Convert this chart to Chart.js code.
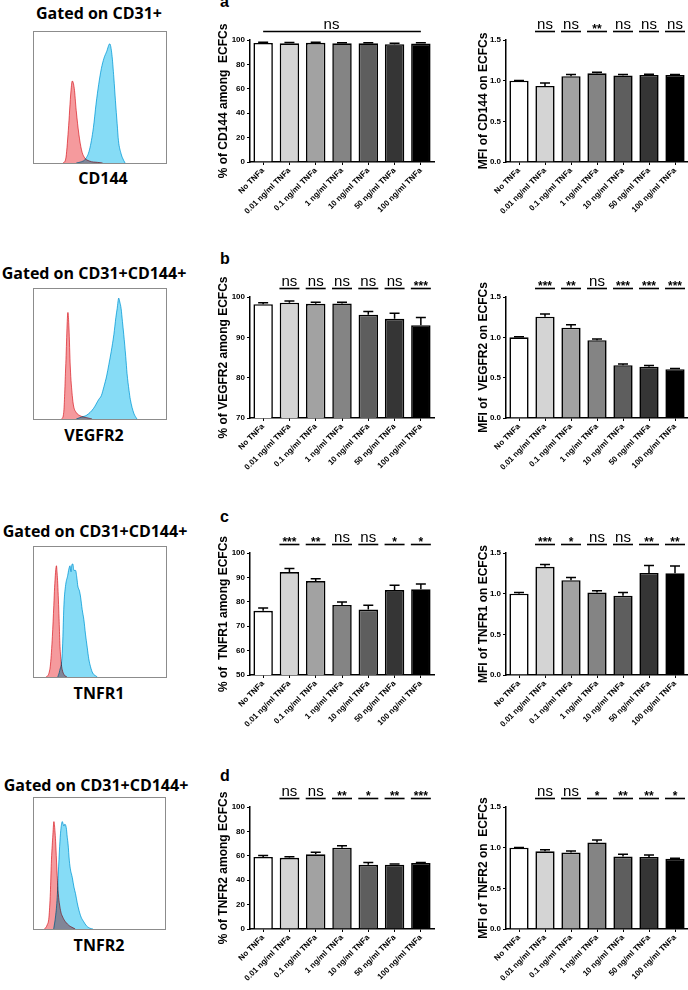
<!DOCTYPE html>
<html>
<head>
<meta charset="utf-8">
<script src="https://cdn.jsdelivr.net/npm/chart.js@4.4.0/dist/chart.umd.min.js"></script>
<style>
body{margin:0;background:#fff;width:688px;height:990px;position:relative;overflow:hidden}
.gate{position:absolute;width:200px;text-align:center;white-space:nowrap;font:bold 16px "Open Sans",sans-serif;line-height:20px}
.box{position:absolute;border:1px solid #8c8c8c;box-sizing:border-box}
.letter{position:absolute;font:bold 16px "Liberation Sans",Arial,sans-serif;line-height:16px}
canvas{position:absolute}
</style>
</head>
<body>
<div class="gate" style="left:-1px;top:3px">Gated on CD31+</div>
<div class="gate" style="left:3px;top:168px">CD144</div>
<div class="gate" style="left:-6px;top:263px">Gated on CD31+CD144+</div>
<div class="gate" style="left:-6px;top:425px">VEGFR2</div>
<div class="gate" style="left:-5px;top:521px">Gated on CD31+CD144+</div>
<div class="gate" style="left:-1px;top:683px">TNFR1</div>
<div class="gate" style="left:-4px;top:775px">Gated on CD31+CD144+</div>
<div class="gate" style="left:-1px;top:935px">TNFR2</div>

<div class="box" style="left:33px;top:31px;width:134px;height:133px"><canvas id="h1" width="132" height="131" style="left:0;top:0"></canvas></div>
<div class="box" style="left:33px;top:288px;width:134px;height:132px"><canvas id="h2" width="132" height="130" style="left:0;top:0"></canvas></div>
<div class="box" style="left:33px;top:546px;width:134px;height:132px"><canvas id="h3" width="132" height="130" style="left:0;top:0"></canvas></div>
<div class="box" style="left:33px;top:797px;width:133px;height:133px"><canvas id="h4" width="131" height="131" style="left:0;top:0"></canvas></div>

<div class="letter" style="left:220px;top:-6px">a</div>
<div class="letter" style="left:220px;top:251px">b</div>
<div class="letter" style="left:220px;top:509px">c</div>
<div class="letter" style="left:220px;top:768px">d</div>

<script>
// categories
const doses = ['No TNFa', '0.01 ng/ml TNFa', '0.1 ng/ml TNFa', '1 ng/ml TNFa', '10 ng/ml TNFa', '50 ng/ml TNFa', '100 ng/ml TNFa'];
const barColors = ['#ffffff', '#d4d4d4', '#a2a2a2', '#848484', '#5e5e5e', '#353535', '#000000'];

// a: CD144
const cd144Pct = [97.6, 97.3, 97.7, 97.3, 97.3, 96.6, 97.1];
const cd144PctErr = [0.5, 0.6, 0.4, 0.5, 0.5, 0.8, 0.6];
const cd144Mfi = [1.0, 0.935, 1.055, 1.09, 1.065, 1.07, 1.07];
const cd144MfiErr = [0.003, 0.035, 0.02, 0.012, 0.01, 0.01, 0.006];
const cd144MfiSig = ['ns', 'ns', '**', 'ns', 'ns', 'ns'];

// b: VEGFR2
const vegfr2Pct = [98.2, 98.6, 98.3, 98.4, 95.6, 94.6, 93.0];
const vegfr2PctErr = [0.4, 0.4, 0.4, 0.3, 0.8, 1.4, 1.9];
const vegfr2PctSig = ['ns', 'ns', 'ns', 'ns', 'ns', '***'];
const vegfr2Mfi = [1.0, 1.255, 1.12, 0.965, 0.655, 0.635, 0.605];
const vegfr2MfiErr = [0.008, 0.035, 0.035, 0.015, 0.015, 0.015, 0.01];
const vegfr2MfiSig = ['***', '**', 'ns', '***', '***', '***'];

// c: TNFR1
const tnfr1Pct = [76.3, 92.2, 88.5, 78.7, 76.8, 84.8, 85.1];
const tnfr1PctErr = [1.2, 1.4, 0.9, 1.2, 1.8, 2.0, 2.2];
const tnfr1PctSig = ['***', '**', 'ns', 'ns', '*', '*'];
const tnfr1Mfi = [1.0, 1.33, 1.165, 1.015, 0.975, 1.255, 1.25];
const tnfr1MfiErr = [0.015, 0.03, 0.035, 0.02, 0.04, 0.09, 0.09];
const tnfr1MfiSig = ['***', '*', 'ns', 'ns', '**', '**'];

// d: TNFR2
const tnfr2Pct = [59.0, 58.3, 61.2, 66.6, 52.6, 52.7, 54.1];
const tnfr2PctErr = [1.2, 1.0, 1.8, 1.7, 2.0, 0.5, 0.5];
const tnfr2PctSig = ['ns', 'ns', '**', '*', '**', '***'];
const tnfr2Mfi = [1.0, 0.955, 0.94, 1.065, 0.89, 0.885, 0.865];
const tnfr2MfiErr = [0.003, 0.018, 0.02, 0.03, 0.03, 0.025, 0.005];
const tnfr2MfiSig = ['ns', 'ns', '*', '**', '**', '*'];

// flow histograms: [intensity (0-100 across box), count (% of box height)]
const cd144Iso = [[22,0],[24,3],[26,25],[28,55],[29,62.6],[30.5,57],[32,40],[34,22],[36,10],[38,4.5],[42,1.5],[48,0.5],[52,0]];
const cd144Stain = [[32,0],[36,1],[39,3],[42,10],[45,27],[47,45],[49,60],[51,72],[53,80],[55,85],[57.4,91],[59,83],[60.5,65],[61.7,47.5],[63,30],[64,17],[66,7],[67,4],[69,0]];
const vegfr2Iso = [[21,0],[22.5,5],[24,40],[25.7,82],[26.5,70],[27.5,40],[29,18],[30,10],[32,5],[35,2.5],[40,1],[44,0]];
const vegfr2Stain = [[32,0],[36,1.5],[40,3],[45,8],[49,15],[51,18],[53,25],[55,33],[56.7,42],[58.5,52],[60.5,65],[62,78],[63,85],[64.2,93],[65,90],[66,85],[67,75],[68,65],[69.5,48],[70.5,35],[72,22],[73,15],[75.6,4.5],[78,0]];
const tnfr1Iso = [[9,0],[11,2],[12.5,10],[13.9,31],[15,55],[15.6,69],[17,85.6],[17.5,80],[18,71.6],[19,45],[19.6,26],[20.5,12],[21.4,5.6],[23,1.5],[25,0]];
const tnfr1Stain = [[18,0],[19.5,5],[21.4,18],[22.7,56],[24,71],[25.5,78],[26.4,83],[27.3,85.6],[28,81],[28.6,86],[29.4,87],[30.2,82],[31.5,82],[32.5,76],[33.2,70],[34.5,66],[35.3,61.5],[36.5,52],[37.8,44],[39,33],[40.3,23],[41.5,14],[42.8,8],[44.5,3],[46.6,1],[48,0]];
const tnfr2Iso = [[8,0],[10,3],[11.4,9],[12.5,28],[13.2,50],[14.3,70],[15.2,82],[16,75],[16.5,67],[17.5,45],[18.3,30],[20.3,14],[22,9],[24,5.5],[27,2.5],[29,1.3],[31.5,0]];
const tnfr2Stain = [[15,0],[16.5,10],[17.7,24],[18.8,48],[19.8,67],[20.6,77],[21.6,82],[22.3,80],[22.8,78.6],[23.5,80],[24.6,77.5],[25.4,70],[26,65],[27,52],[27.9,45],[28.6,42],[29.2,39.5],[30.5,32],[31.7,27],[33,20],[34.3,14.4],[36,9],[38,5.5],[40,2.5],[43,0.5],[45,0]];

const FONT = '"Liberation Sans", Arial, sans-serif';
Chart.defaults.font.family = FONT;
Chart.defaults.color = '#000';

// blend the overlapping histograms like the cytometer software does
const multiply = {
  id: 'multiply',
  beforeDatasetsDraw(chart) { chart.ctx.save(); chart.ctx.globalCompositeOperation = 'multiply'; },
  afterDatasetsDraw(chart) { chart.ctx.restore(); }
};

function histogram(id, iso, stain) {
  const pts = (arr) => arr.map(p => ({x: p[0], y: p[1]}));
  new Chart(document.getElementById(id), {
    type: 'line',
    data: {
      datasets: [
        {data: pts(stain), borderColor: '#3cbbe4', backgroundColor: '#86dcf6', borderWidth: 1, fill: 'origin'},
        {data: pts(iso), borderColor: '#e8636a', backgroundColor: '#f59a9d', borderWidth: 1, fill: 'origin'}
      ]
    },
    options: {
      responsive: false, animation: false, events: [],
      layout: {padding: 0},
      elements: {point: {radius: 0}, line: {cubicInterpolationMode: 'monotone'}},
      plugins: {legend: {display: false}, tooltip: {enabled: false}},
      scales: {
        x: {type: 'linear', min: 0, max: 100, display: false},
        y: {min: 0, max: 100, display: false}
      }
    },
    plugins: [multiply]
  });
}

histogram('h1', cd144Iso, cd144Stain);
histogram('h2', vegfr2Iso, vegfr2Stain);
histogram('h3', tnfr1Iso, tnfr1Stain);
histogram('h4', tnfr2Iso, tnfr2Stain);

// error bars (upper only) and significance marks
const extras = {
  id: 'extras',
  afterDatasetsDraw(chart, args, opts) {
    const ctx = chart.ctx;
    const ys = chart.scales.y, xs = chart.scales.x;
    const meta = chart.getDatasetMeta(0);
    const vals = chart.data.datasets[0].data;
    ctx.save();
    ctx.strokeStyle = '#000';
    ctx.fillStyle = '#000';
    ctx.lineWidth = 1.5;
    meta.data.forEach((bar, i) => {
      const top = ys.getPixelForValue(vals[i] + opts.errors[i]);
      ctx.beginPath();
      ctx.moveTo(bar.x, bar.y);
      ctx.lineTo(bar.x, top);
      ctx.moveTo(bar.x - 5, top);
      ctx.lineTo(bar.x + 5, top);
      ctx.stroke();
    });
    const lineY = chart.chartArea.top - 8.5;
    ctx.textAlign = 'center';
    ctx.textBaseline = 'alphabetic';
    ctx.lineWidth = 1.6;
    const mark = (txt, cx) => {
      if (txt === 'ns') {
        ctx.font = '15px ' + FONT;
        ctx.fillText(txt, cx, lineY - 2.5);
      } else {
        ctx.font = 'bold 12px ' + FONT;
        ctx.fillText(txt, cx, lineY + 1);
      }
    };
    if (opts.span) {
      const x0 = xs.getPixelForValue(0), x1 = xs.getPixelForValue(6);
      ctx.beginPath(); ctx.moveTo(x0, lineY); ctx.lineTo(x1, lineY); ctx.stroke();
      mark(opts.span, xs.getPixelForValue(2.6));
    } else {
      opts.marks.forEach((m, k) => {
        const bar = meta.data[k + 1];
        ctx.beginPath(); ctx.moveTo(bar.x - 10, lineY); ctx.lineTo(bar.x + 10, lineY); ctx.stroke();
        mark(m, bar.x);
      });
    }
    ctx.restore();
  }
};

const PAD_TOP = 32, X_AXIS_H = 70;
const leftCol = {left: 216, width: 220, axisW: 34, padRight: 2};
const rightCol = {left: 476, width: 212, axisW: 30, padRight: 0};

function barChart(col, top, bottom, values, errors, ymin, ymax, step, decimals, title, marks, span) {
  const cv = document.createElement('canvas');
  cv.width = col.width;
  cv.height = Math.round(bottom - top) + PAD_TOP + X_AXIS_H;
  cv.style.left = col.left + 'px';
  cv.style.top = (top - PAD_TOP) + 'px';
  document.body.appendChild(cv);
  new Chart(cv, {
    type: 'bar',
    data: {
      labels: doses,
      datasets: [{
        data: values,
        backgroundColor: barColors,
        borderColor: '#000',
        borderWidth: 1.6,
        categoryPercentage: 1,
        barPercentage: 0.74
      }]
    },
    options: {
      responsive: false, animation: false, events: [],
      layout: {padding: {top: PAD_TOP, right: col.padRight, left: 0, bottom: 0}},
      plugins: {legend: {display: false}, tooltip: {enabled: false}, extras: {errors: errors, marks: marks, span: span}},
      scales: {
        x: {
          offset: true,
          grid: {display: true, drawOnChartArea: false, tickLength: 3, color: '#000', offset: false},
          border: {color: '#000', width: 1.5},
          ticks: {autoSkip: false, minRotation: 45, maxRotation: 45, padding: 1, font: {size: 8, weight: 'bold'}},
          afterFit(s) { s.height = X_AXIS_H; }
        },
        y: {
          min: ymin, max: ymax,
          grid: {drawOnChartArea: false, tickLength: 3, color: '#000'},
          border: {color: '#000', width: 1.5},
          ticks: {stepSize: step, padding: 2, font: {size: 8, weight: 'bold'},
                  callback: (v) => v.toFixed(decimals)},
          title: {display: true, text: title, padding: 0, font: {size: 12, weight: 'bold'}},
          afterFit(s) { s.width = col.axisW; }
        }
      }
    },
    plugins: [extras]
  });
}

barChart(leftCol, 40, 162, cd144Pct, cd144PctErr, 0, 100, 20, 0, '% of CD144 among  ECFCs', [], 'ns');
barChart(rightCol, 40, 162, cd144Mfi, cd144MfiErr, 0, 1.5, 0.5, 1, 'MFI of CD144 on ECFCs', cd144MfiSig, null);
barChart(leftCol, 297, 418, vegfr2Pct, vegfr2PctErr, 70, 100, 10, 0, '% of VEGFR2 among ECFCs', vegfr2PctSig, null);
barChart(rightCol, 297, 418, vegfr2Mfi, vegfr2MfiErr, 0, 1.5, 0.5, 1, 'MFI of  VEGFR2 on ECFCs', vegfr2MfiSig, null);
barChart(leftCol, 553, 675, tnfr1Pct, tnfr1PctErr, 50, 100, 10, 0, '% of  TNFR1 among ECFCs', tnfr1PctSig, null);
barChart(rightCol, 553, 675, tnfr1Mfi, tnfr1MfiErr, 0, 1.5, 0.5, 1, 'MFI of TNFR1 on ECFCs', tnfr1MfiSig, null);
barChart(leftCol, 807, 929, tnfr2Pct, tnfr2PctErr, 0, 100, 20, 0, '% of TNFR2 among ECFCs', tnfr2PctSig, null);
barChart(rightCol, 807, 929, tnfr2Mfi, tnfr2MfiErr, 0, 1.5, 0.5, 1, 'MFI of TNFR2 on  ECFCs', tnfr2MfiSig, null);
</script>
</body>
</html>
